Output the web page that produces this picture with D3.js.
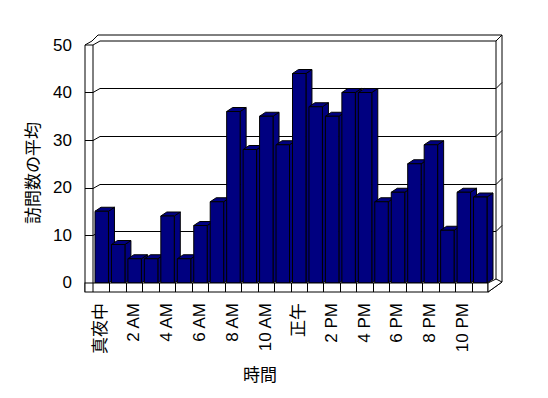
<!DOCTYPE html>
<html>
<head>
<meta charset="utf-8">
<script src="https://cdn.jsdelivr.net/npm/d3@7"></script>
<style>
  body { margin: 0; background: #fff; }
  svg { display: block; }
  text { font-family: "Liberation Sans", "Noto Sans CJK JP", sans-serif; fill: #000; }
</style>
</head>
<body>
<svg width="548" height="398"></svg>
<script>
var hours = ["真夜中", "", "2 AM", "", "4 AM", "", "6 AM", "", "8 AM", "", "10 AM", "",
             "正午", "", "2 PM", "", "4 PM", "", "6 PM", "", "8 PM", "", "10 PM", ""];
var visits = [15, 8, 5, 5, 14, 5, 12, 17, 36, 28, 35, 29,
              44, 37, 35, 40, 40, 17, 19, 25, 29, 11, 19, 18];
var yTicks = [0, 10, 20, 30, 40, 50];

var svg = d3.select("svg");

// oblique offsets
var wallDx = 7, wallDy = -4,   // floor depth
    slabDx = 6, slabDy = -6,   // back wall thickness
    barDx = 6, barDy = -4;     // bar depth

var x = d3.scaleBand().domain(d3.range(visits.length)).range([93, 488]),
    y = d3.scaleLinear().domain([0, 50]).range([282.5, 45]);

var base = 283, floorBottom = 292, left = 85;
var x0r = x.range()[0], x1r = x.range()[1];
var backL = x0r + wallDx, backR = 496, outerR = backR + slabDx;
var yTop = y(50);

var g = svg.append("g")
    .attr("fill", "none")
    .attr("stroke", "#000")
    .attr("stroke-width", 1);

// outline of walls
g.append("path")
    .attr("d", "M" + left + "," + floorBottom + "V" + yTop +
        "L" + (left + wallDx) + "," + (yTop + wallDy) +
        "L" + (left + wallDx + slabDx) + "," + (yTop + wallDy + slabDy) +
        "H" + outerR + "V" + (base - 1) +
        "L" + x1r + "," + floorBottom);

// inner edges
g.append("path")
    .attr("d",
        "M" + left + "," + yTop + "H" + x0r + "V" + base +
        "M" + x0r + "," + yTop + "L" + backL + "," + (yTop + wallDy) +
        "H" + backR + "L" + outerR + "," + (yTop + wallDy + slabDy) +
        "M" + backR + "," + (yTop + wallDy) + "V" + (base + wallDy));

// grid lines on walls
yTicks.filter(function(d) { return d > 0 && d < 50; }).forEach(function(v) {
    var fy = Math.round(y(v)) + 0.5;
    g.append("path")
        .attr("d", "M" + left + "," + fy + "H" + x0r +
            "L" + backL + "," + (fy + wallDy) + "H" + backR +
            "L" + outerR + "," + (fy + wallDy + slabDy));
});

// bars, left to right
var bars = svg.append("g")
    .attr("fill", "#000080")
    .attr("stroke", "#000")
    .attr("stroke-width", 1)
    .attr("stroke-linejoin", "round");

visits.forEach(function(v, i) {
    var bx0 = x(i) + 2, bx1 = x(i) + x.bandwidth() - 1, yt = y(v);
    bars.append("path")
        .attr("d", "M" + bx1 + "," + base + "L" + (bx1 + barDx) + "," + (base + barDy) +
            "V" + (yt + barDy) + "L" + bx1 + "," + yt + "Z");
    bars.append("path")
        .attr("d", "M" + bx0 + "," + yt + "L" + (bx0 + barDx) + "," + (yt + barDy) +
            "H" + (bx1 + barDx) + "L" + bx1 + "," + yt + "Z");
    bars.append("rect")
        .attr("x", bx0).attr("y", yt)
        .attr("width", bx1 - bx0).attr("height", base - yt);
});

// floor front face with category ticks
var floor = svg.append("g").attr("stroke", "#000").attr("fill", "none");
floor.append("rect")
    .attr("x", left).attr("y", base)
    .attr("width", x1r - left).attr("height", floorBottom - base)
    .attr("fill", "#fff");
floor.append("path")
    .attr("fill", "#fff")
    .attr("d", "M" + x1r + "," + base + "L" + backR + "," + (base + wallDy) +
        "L" + outerR + "," + (base - 1) + "L" + x1r + "," + floorBottom + "Z");
d3.range(1, visits.length).forEach(function(i) {
    floor.append("line")
        .attr("x1", Math.round(x(i)) + 0.5).attr("x2", Math.round(x(i)) + 0.5)
        .attr("y1", base).attr("y2", floorBottom);
});
floor.append("line")
    .attr("x1", x0r).attr("x2", x0r)
    .attr("y1", base).attr("y2", floorBottom);

// y axis labels
svg.append("g").selectAll("text")
    .data(yTicks)
    .enter().append("text")
    .attr("x", 72)
    .attr("y", function(d) { return y(d); })
    .attr("dy", "0.35em")
    .attr("text-anchor", "end")
    .style("font-size", "17px")
    .text(function(d) { return d; });

// x axis labels
svg.append("g").selectAll("text")
    .data(hours)
    .enter().append("text")
    .attr("transform", function(d, i) {
        return "translate(" + (x(i) + x.bandwidth() / 2 - 1) + ",303) rotate(-90)";
    })
    .attr("dy", "0.35em")
    .attr("text-anchor", "end")
    .style("font-size", "17px")
    .text(function(d) { return d; });

// axis titles
svg.append("text")
    .attr("transform", "translate(33,173) rotate(-90)")
    .attr("text-anchor", "middle")
    .attr("dy", "0.35em")
    .style("font-size", "17px")
    .text("訪問数の平均");

svg.append("text")
    .attr("x", 260)
    .attr("y", 375)
    .attr("text-anchor", "middle")
    .attr("dy", "0.35em")
    .style("font-size", "17px")
    .text("時間");
</script>
</body>
</html>
